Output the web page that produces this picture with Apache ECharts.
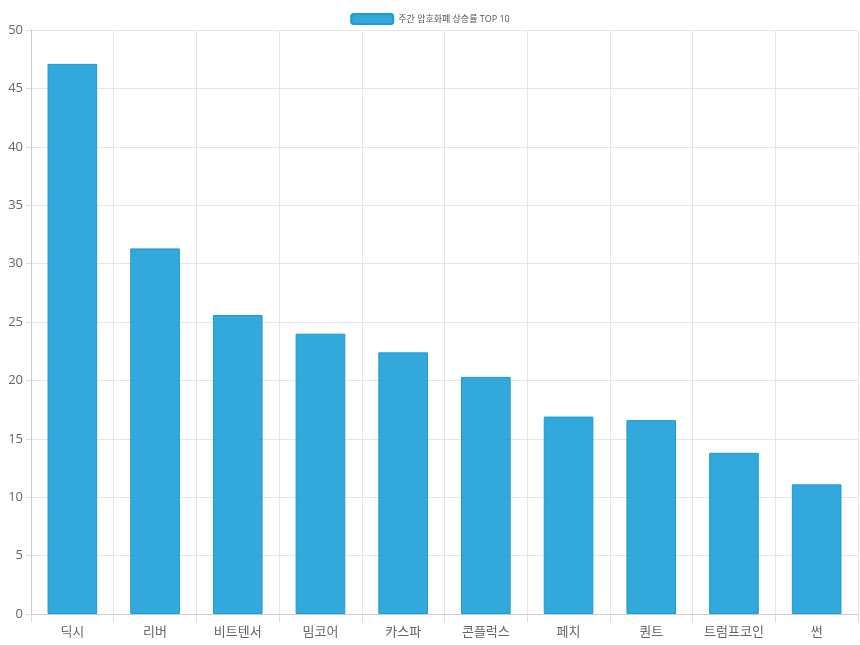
<!DOCTYPE html>
<html><head><meta charset="utf-8">
<script src="https://cdn.jsdelivr.net/npm/echarts@6/dist/echarts.min.js"></script>
<style>html,body{margin:0;padding:0;background:#fff}#c{width:860px;height:645px}</style>
</head><body><div id="c"></div>
<script>
var categories = ['딕시','리버','비트텐서','밈코어','카스파','콘플럭스','페치','퀀트','트럼프코인','썬'];
var values = [47.1, 31.3, 25.6, 24.0, 22.4, 20.3, 16.9, 16.6, 13.8, 11.1];
var seriesName = '주간 암호화폐 상승률 TOP 10';
var font = '"Open Sans","Noto Sans CJK KR",sans-serif';

var chart = echarts.init(document.getElementById('c'));
chart.setOption({
  animation: false,
  textStyle: {fontFamily: font},
  legend: {
    top: 8, left: 'center', itemWidth: 42, itemHeight: 10, itemGap: 5,
    textStyle: {fontSize: 9, color: '#555', fontFamily: font},
    data: [seriesName]
  },
  grid: {left: 31, right: 2, top: 30, bottom: 31, containLabel: false},
  xAxis: {
    type: 'category', data: categories,
    axisLine: {lineStyle: {color: '#ccc'}},
    axisTick: {show: true, length: 8, lineStyle: {color: '#ddd'}},
    splitLine: {show: true, lineStyle: {color: '#e6e6e6'}},
    axisLabel: {color: '#666', fontSize: 13, margin: 12, fontFamily: font}
  },
  yAxis: {
    type: 'value', min: 0, max: 50, interval: 5,
    axisLine: {show: true, lineStyle: {color: '#ccc'}},
    axisTick: {show: true, length: 5, lineStyle: {color: '#ddd'}},
    splitLine: {lineStyle: {color: '#e6e6e6'}},
    axisLabel: {color: '#666', fontSize: 13, margin: 8, fontFamily: font}
  },
  series: [{
    name: seriesName, type: 'bar', data: values, barWidth: '60%',
    itemStyle: {color: 'rgba(21,155,212,0.87)', borderColor: '#1a9ad6', borderWidth: 1}
  }]
});
</script></body></html>
